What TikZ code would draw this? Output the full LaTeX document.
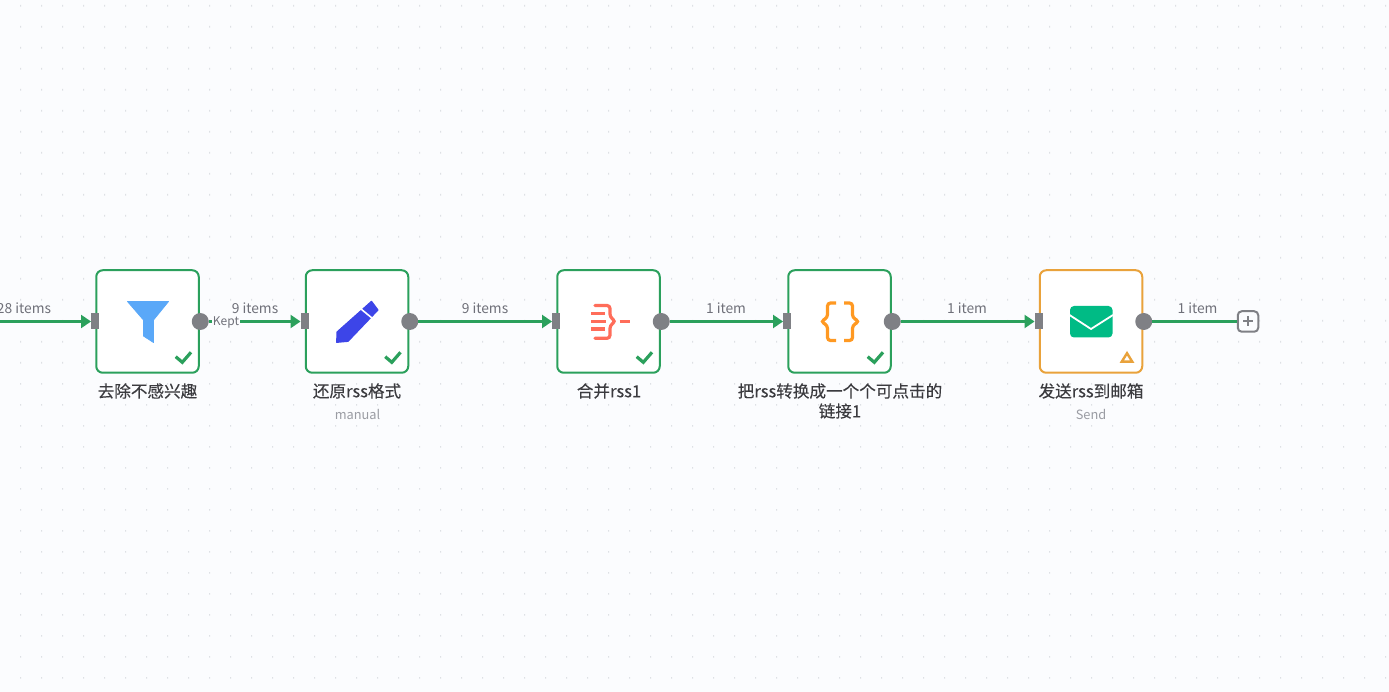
\documentclass[tikz,border=0pt]{standalone}
\usepackage{fontspec}
\setmainfont{Noto Sans CJK SC}
\newfontfamily\lblfont{Noto Sans CJK SC}[FakeBold=0.2]
\usetikzlibrary{arrows.meta}
\definecolor{bgc}{HTML}{FBFCFE}
\definecolor{dotc}{HTML}{DDE0E4}
\definecolor{okc}{HTML}{2BA05C}
\definecolor{warnc}{HTML}{E9A23B}
\definecolor{sockc}{HTML}{7F8085}
\definecolor{edgetxt}{HTML}{6F7079}
\definecolor{nametxt}{HTML}{3B3B3F}
\definecolor{subtxt}{HTML}{9A9CA3}
\definecolor{funnelc}{HTML}{5AA8F8}
\definecolor{penc}{HTML}{3D45E8}
\definecolor{mergec}{HTML}{FF6D5A}
\definecolor{codec}{HTML}{FF9922}
\definecolor{mailc}{HTML}{00BB85}
\tikzset{
  wfbox/.style={draw=okc,fill=white,line width=2pt,rounded corners=6.5pt,minimum width=102.5pt,minimum height=102.5pt,inner sep=0pt},
  warnbox/.style={wfbox,draw=warnc},
  insock/.style={fill=sockc,minimum width=8pt,minimum height=16pt,inner sep=0pt},
  outsock/.style={circle,fill=sockc,minimum size=17pt,inner sep=0pt},
  edge/.style={draw=okc,line width=2.2pt},
  arrowedge/.style={edge,-{Triangle[length=10pt,width=13pt]},shorten >=0pt},
  edgelbl/.style={text=edgetxt,font=\fontsize{13.8}{15}\selectfont,inner sep=0pt},
  keptlbl/.style={text=edgetxt,fill=bgc,font=\fontsize{12}{14}\selectfont,inner xsep=1pt,inner ysep=0.5pt},
  namelbl/.style={text=nametxt,font=\lblfont\fontsize{16.6}{20}\selectfont,inner sep=0pt,align=center},
  sublbl/.style={text=subtxt,font=\fontsize{12.8}{15}\selectfont,inner sep=0pt},
  checkm/.style={draw=okc,line width=3.2pt},
  plusbtn/.style={draw=sockc,fill=bgc,line width=2pt,rounded corners=4pt,minimum size=20.5pt,inner sep=0pt},
}
\begin{document}
\begin{tikzpicture}[x=1pt,y=-1pt]
\useasboundingbox (0,0) rectangle (1389,692);
\fill[bgc] (0,0) rectangle (1389,692);
\fill[dotc] \foreach \i in {0,...,65} { \foreach \j in {0,...,32} { ({20+21*\i},{5+21*\j}) rectangle ++(1,1.6) } };

\node[wfbox] (b1) at (147.5,321.5) {};
\node[wfbox] (b2) at (357,321.5) {};
\node[wfbox] (b3) at (608.5,321.5) {};
\node[wfbox] (b4) at (839.5,321.5) {};
\node[warnbox] (b5) at (1091,321.5) {};

\coordinate (start) at (0,321.5);
\node[plusbtn] (plus) at (1248,321.5) {};
\draw[sockc,line width=2pt] (1243,321.5) -- (1253,321.5) (1248,316.5) -- (1248,326.5);

\foreach \n in {1,...,5} {
  \node[insock] (i\n) at (b\n.west) {};
  \node[outsock] (o\n) at ([xshift=0.5pt]b\n.east) {};
}

\draw[arrowedge] (start) -- (i1.west);
\draw[arrowedge] (o1.east) -- (i2.west);
\draw[arrowedge] (o2.east) -- (i3.west);
\draw[arrowedge] (o3.east) -- (i4.west);
\draw[arrowedge] (o4.east) -- (i5.west);
\draw[edge] (o5.east) -- (plus.west);

\node[keptlbl] (kept) at (226,322) {Kept};
\node[edgelbl] (e0) at (24,308.5) {28 items};
\node[edgelbl] (e1) at (255,308.5) {9 items};
\node[edgelbl] (e2) at (485,308.5) {9 items};
\node[edgelbl] (e3) at (726,308.5) {1 item};
\node[edgelbl] (e4) at (967,308.5) {1 item};
\node[edgelbl] (e5) at (1197.5,308.5) {1 item};

\node[namelbl] (n1) at (147.5,391) {去除不感兴趣};
\node[namelbl] (n2) at (357,391) {还原rss格式};
\node[sublbl] (s2) at (357.5,414) {manual};
\node[namelbl] (n3) at (609,391) {合并rss1};
\node[namelbl] (n4) at (840,401) {把rss转换成一个个可点击的\\链接1};
\node[namelbl] (n5) at (1091,391) {发送rss到邮箱};
\node[sublbl] (s5) at (1091,414) {Send};

% funnel
\fill[funnelc,draw=funnelc,line width=0.8pt,line join=round] (127.5,301.5) -- (168.5,301.5) -- (153.5,320) -- (153.5,342.5) -- (143.5,336) -- (143.5,320) -- cycle;
% pencil
\fill[penc,draw=penc,line width=1.4pt,line join=round] (336.8,342.2) -- (337.2,332) -- (371.5,301.5) -- (377.8,310) -- (348,341.2) -- cycle;
\draw[white,line width=1.6pt] (361,309) -- (372.3,318.3);
% merge
\draw[mergec,line width=3.2pt,line cap=round,rounded corners=3pt] (595,305.5) -- (610,305.5) -- (610,317) -- (615.5,321.3) -- (610,325.5) -- (610,338.3) -- (595,338.3);
\draw[mergec,line width=3.2pt] (591,313.3) -- (605,313.3) (591,321.3) -- (606,321.3) (591,329) -- (605,329) (619.5,321.3) -- (630,321.3);
% code braces
\draw[codec,line width=3.2pt,rounded corners=3pt] (836,303) -- (827.5,303) -- (827.5,317.5) -- (821,321.5) -- (827.5,325.5) -- (827.5,340.5) -- (836,340.5);
\draw[codec,line width=3.2pt,rounded corners=3pt] (844,303) -- (852.5,303) -- (852.5,317.5) -- (859,321.5) -- (852.5,325.5) -- (852.5,340.5) -- (844,340.5);
% mail
\fill[mailc,rounded corners=4pt] (1070,306) rectangle (1112.5,337.5);
\draw[white,line width=1.8pt,line join=round] (1069.5,315) -- (1091,329) -- (1113,315);

% status marks
\foreach \n in {1,...,4} {
  \draw[checkm] ([shift={(28.2,35.2)}]b\n.center) -- ([shift={(34.8,40.8)}]b\n.center) -- ([shift={(43.5,30.8)}]b\n.center);
}
\draw[warnc,line width=2.4pt,line join=miter] (1127,353.2) -- (1121.8,361.6) -- (1132.2,361.6) -- cycle;
\end{tikzpicture}
\end{document}
